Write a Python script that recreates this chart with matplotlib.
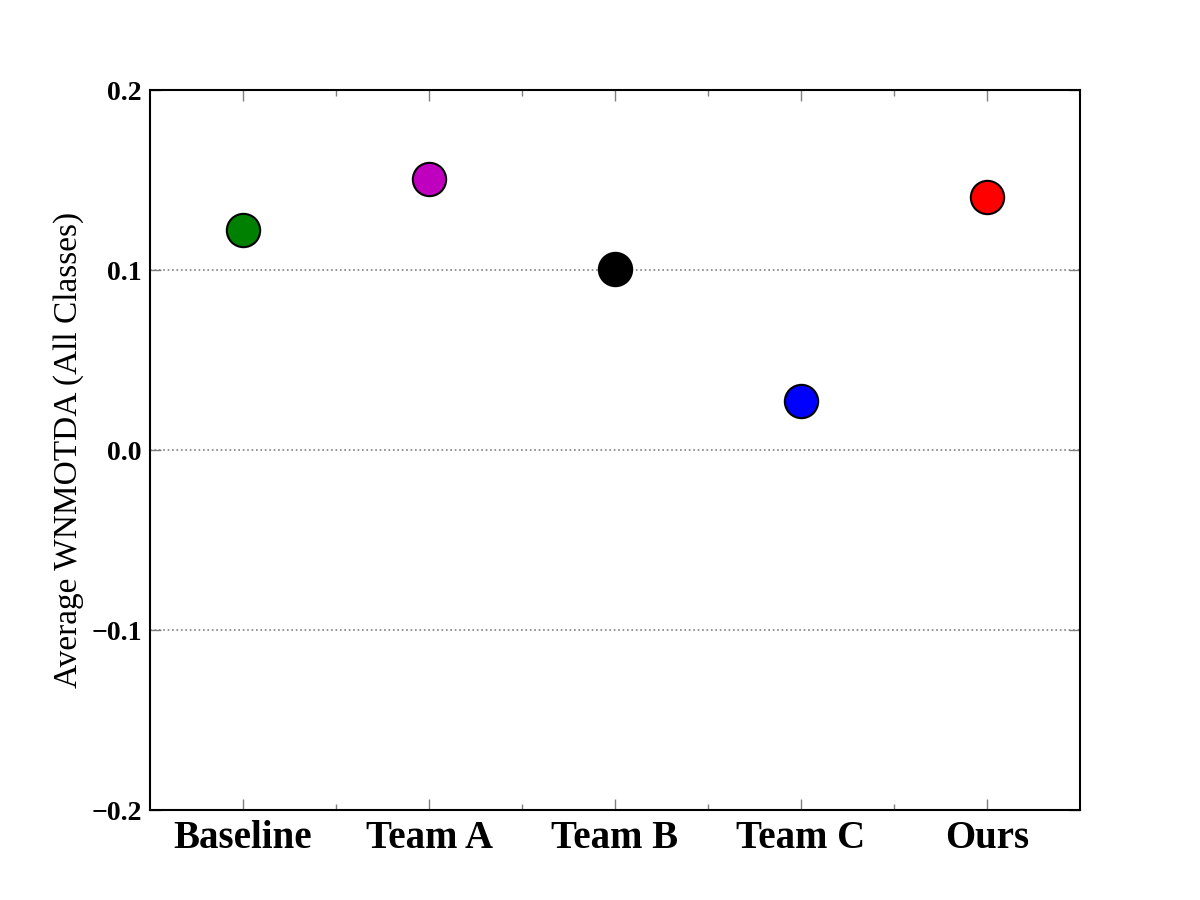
import matplotlib
matplotlib.use("Agg")
import matplotlib.pyplot as plt

categories = ["Baseline", "Team A", "Team B", "Team C", "Ours"]
values = [0.122, 0.1505, 0.1005, 0.0272, 0.1405]
colors = ["green", "m", "black", "blue", "red"]
yticks = [-0.2, -0.1, 0.0, 0.1, 0.2]

plt.rcParams['font.family'] = ['Liberation Serif', 'DejaVu Serif']

fig = plt.figure(figsize=(12, 9), dpi=100)
ax = fig.add_axes([0.125, 0.1, 0.775, 0.8])

xs = list(range(1, len(categories) + 1))
for x, v, c in zip(xs, values, colors):
    ax.plot([x], [v], 'o', color=c, markersize=24, markeredgecolor='black',
            markeredgewidth=1.5, zorder=3)

ax.set_xlim(0.5, len(categories) + 0.5)
ax.set_ylim(-0.2, 0.2)
ax.set_xticks(xs)
ax.set_xticklabels(categories, fontsize=28, fontweight='bold')
ax.set_xticks([x + 0.5 for x in xs[:-1]], minor=True)
ax.set_yticks(yticks)
ax.set_yticklabels([f"{t:.1f}".replace("-", "\u2212") for t in yticks], fontsize=20, fontweight='bold')
ax.yaxis.grid(True, linestyle=':', color='gray', linewidth=1.2)
ax.set_axisbelow(True)
ax.tick_params(axis='both', which='both', direction='in', top=True, right=True,
               color='gray')
ax.tick_params(axis='both', which='major', length=8, width=1)
ax.tick_params(axis='both', which='minor', length=4, width=1)
ax.tick_params(axis='x', which='major', pad=7)
ax.tick_params(axis='y', which='major', pad=6)
for s in ax.spines.values():
    s.set_linewidth(1.5)
ax.set_ylabel("Average WNMOTDA (All Classes)", fontsize=24, labelpad=5)

fig.savefig("out.png", dpi=100)
